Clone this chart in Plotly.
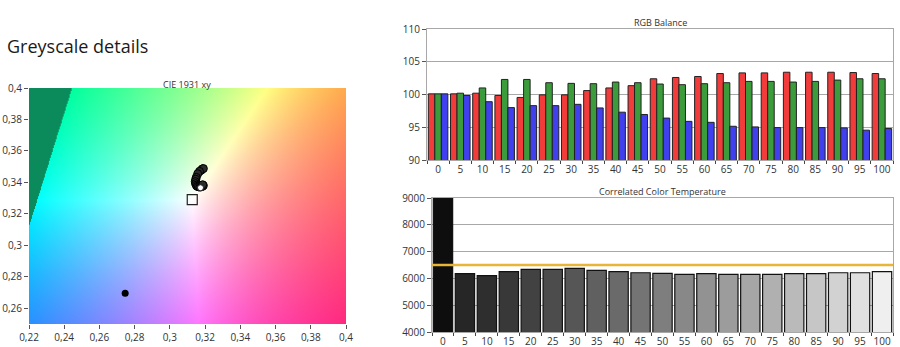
import base64, struct, zlib
import numpy as np
import plotly.graph_objects as go

# ---------------- data ----------------
levels = ["0", "5", "10", "15", "20", "25", "30", "35", "40", "45", "50",
          "55", "60", "65", "70", "75", "80", "85", "90", "95", "100"]

red_vals = [100.1, 100.1, 100.2, 99.85, 99.55, 99.95, 99.95, 100.6, 101.0, 101.35, 102.4,
            102.6, 102.75, 103.2, 103.3, 103.3, 103.4, 103.4, 103.4, 103.35, 103.2]
green_vals = [100.1, 100.2, 101.0, 102.3, 102.3, 101.8, 101.7, 101.65, 101.9, 101.8, 101.6,
              101.5, 101.65, 101.8, 102.0, 102.0, 101.9, 102.0, 102.2, 102.4, 102.4]
blue_vals = [100.1, 99.85, 98.9, 98.0, 98.3, 98.3, 98.5, 97.95, 97.3, 96.95, 96.4,
             95.9, 95.75, 95.15, 95.05, 94.95, 94.95, 94.95, 94.9, 94.55, 94.8]

cct_vals = [10500, 6175, 6100, 6250, 6340, 6340, 6375, 6300, 6250, 6210, 6190,
            6150, 6175, 6150, 6150, 6150, 6175, 6175, 6210, 6210, 6250]
cct_target = 6500

# CIE xy measured points (5% .. 95%), the 100% point, the 0% point and the D65 target
meas_x = [0.3155, 0.3160, 0.3178, 0.3185, 0.3190, 0.3168, 0.3158, 0.3150, 0.3147, 0.3144,
          0.3146, 0.3150, 0.3155, 0.3162, 0.3170, 0.3178, 0.3185, 0.3190, 0.3186]
meas_y = [0.3378, 0.3385, 0.3478, 0.3486, 0.3488, 0.3470, 0.3455, 0.3432, 0.3420, 0.3405,
          0.3392, 0.3382, 0.3375, 0.3372, 0.3370, 0.3372, 0.3375, 0.3380, 0.3385]
white_x, white_y = [0.3174], [0.3366]
black_x, black_y = [0.2746], [0.2695]
target_x, target_y = [0.3127], [0.3290]

cie_xticks = [0.22, 0.24, 0.26, 0.28, 0.30, 0.32, 0.34, 0.36, 0.38, 0.40]
cie_xlabels = ["0,22", "0,24", "0,26", "0,28", "0,3", "0,32", "0,34", "0,36", "0,38", "0,4"]
cie_yticks = [0.26, 0.28, 0.30, 0.32, 0.34, 0.36, 0.38, 0.40]
cie_ylabels = ["0,26", "0,28", "0,3", "0,32", "0,34", "0,36", "0,38", "0,4"]

grey_fill = ["#0e0e0e", "#262626", "#2e2e2e", "#383838", "#424242", "#4c4c4c", "#565656",
             "#606060", "#6a6a6a", "#747474", "#7e7e7e", "#888888", "#929292", "#9c9c9c",
             "#a6a6a6", "#b0b0b0", "#bababa", "#c6c6c6", "#d2d2d2", "#e0e0e0", "#efefef"]

# ---------------- CIE background image ----------------
X0, X1, Y0, Y1 = 0.22, 0.40, 0.25, 0.40
W, H = 320, 240
xs = X0 + (np.arange(W) + 0.5) / W * (X1 - X0)
ys = Y1 - (np.arange(H) + 0.5) / H * (Y1 - Y0)
gx, gy = np.meshgrid(xs, ys)
Xc = gx / gy
Yc = np.ones_like(gx)
Zc = (1 - gx - gy) / gy
M = np.array([[3.2406, -1.5372, -0.4986],
              [-0.9689, 1.8758, 0.0415],
              [0.0557, -0.2040, 1.0570]])
rgb = np.stack([M[i, 0] * Xc + M[i, 1] * Yc + M[i, 2] * Zc for i in range(3)], axis=-1)
outside = rgb.min(axis=-1) < 0
rgb = np.clip(rgb, 0, None)
rgb = rgb / rgb.max(axis=-1, keepdims=True)
rgb = rgb ** 0.9
img = (rgb * 255).round().astype(np.uint8)
img[outside] = np.array([11, 138, 92], dtype=np.uint8)


def png_uri(a):
    h, w, _ = a.shape
    raw = b"".join(b"\x00" + a[r].tobytes() for r in range(h))

    def chunk(t, d):
        c = struct.pack(">I", len(d)) + t + d
        return c + struct.pack(">I", zlib.crc32(t + d) & 0xffffffff)

    png = (b"\x89PNG\r\n\x1a\n" + chunk(b"IHDR", struct.pack(">IIBBBBB", w, h, 8, 2, 0, 0, 0))
           + chunk(b"IDAT", zlib.compress(raw, 9)) + chunk(b"IEND", b""))
    return "data:image/png;base64," + base64.b64encode(png).decode()


# ---------------- figure ----------------
FONT = "Open Sans"
TICKC = "#333333"
GRID = "#a8a8a8"
fig = go.Figure()

# CIE plot
fig.add_trace(go.Scatter(x=meas_x, y=meas_y, mode="markers", xaxis="x", yaxis="y",
                         marker=dict(size=8, color="#2b2b2b", line=dict(color="#000000", width=1)),
                         showlegend=False))
fig.add_trace(go.Scatter(x=white_x, y=white_y, mode="markers", xaxis="x", yaxis="y",
                         marker=dict(size=6, color="#ffffff", line=dict(color="#222222", width=1)),
                         showlegend=False))
fig.add_trace(go.Scatter(x=black_x, y=black_y, mode="markers", xaxis="x", yaxis="y",
                         marker=dict(size=7, color="#000000"), showlegend=False))
fig.add_trace(go.Scatter(x=target_x, y=target_y, mode="markers", xaxis="x", yaxis="y",
                         marker=dict(size=10, symbol="square-open", color="#222222",
                                     line=dict(width=1.2)), showlegend=False))

# RGB balance
for vals, col in ((red_vals, "#f23c3c"), (green_vals, "#3c9c3c"), (blue_vals, "#4040ee")):
    fig.add_trace(go.Bar(x=levels, y=vals, xaxis="x2", yaxis="y2", marker_color=col,
                         marker_line=dict(color="#222222", width=1), showlegend=False))

# CCT
fig.add_trace(go.Bar(x=levels, y=cct_vals, xaxis="x3", yaxis="y3", marker_color=grey_fill,
                     marker_line=dict(color="#111111", width=1.2), showlegend=False))

fig.add_shape(type="line", xref="x3 domain", yref="y3", x0=0, x1=1, y0=cct_target, y1=cct_target,
              line=dict(color="#e8b43a", width=2.5))

fig.add_layout_image(dict(source=png_uri(img), xref="x", yref="y", x=X0, y=Y1,
                          sizex=X1 - X0, sizey=Y1 - Y0, sizing="stretch", layer="below"))

tickfont = dict(family=FONT, size=10, color=TICKC)
cat_font = dict(family=FONT, size=10, color=TICKC)
fig.update_layout(
    width=900, height=347, margin=dict(l=0, r=0, t=0, b=0, autoexpand=False),
    paper_bgcolor="white", plot_bgcolor="rgba(0,0,0,0)",
    font=dict(family=FONT, color=TICKC),
    barmode="group", bargap=0.12, bargroupgap=0,
    xaxis=dict(domain=[29 / 900, 346 / 900], range=[X0, X1], tickvals=cie_xticks,
               ticktext=cie_xlabels, ticks="outside", ticklen=4, tickcolor="#555",
               showgrid=False, zeroline=False, showline=False, tickfont=tickfont, anchor="y",
               automargin=False),
    yaxis=dict(domain=[1 - 324 / 347, 1 - 88 / 347], range=[Y0, Y1], tickvals=cie_yticks,
               ticktext=cie_ylabels, ticks="outside", ticklen=4, tickcolor="#555",
               showgrid=False, zeroline=False, showline=False, tickfont=tickfont, anchor="x",
               automargin=False),
    xaxis2=dict(domain=[427 / 900, 893 / 900], type="category", anchor="y2",
                ticks="outside", tickson="boundaries", ticklen=3, tickcolor="#444",
                showgrid=False, showline=True, mirror=True, linecolor=GRID, tickfont=cat_font,
                tickangle=0, automargin=False),
    yaxis2=dict(domain=[1 - 160 / 347, 1 - 29 / 347], range=[90, 110], dtick=5,
                ticks="outside", ticklen=4, tickcolor="#555", gridcolor=GRID,
                showline=True, mirror=True, linecolor=GRID, zeroline=False,
                tickfont=tickfont, anchor="x2", automargin=False),
    xaxis3=dict(domain=[432 / 900, 893 / 900], type="category", anchor="y3",
                ticks="outside", tickson="boundaries", ticklen=3, tickcolor="#444",
                showgrid=False, showline=True, mirror=True, linecolor=GRID, tickfont=cat_font,
                tickangle=0, automargin=False),
    yaxis3=dict(domain=[1 - 332 / 347, 1 - 198 / 347], range=[4000, 9000], dtick=1000,
                ticks="outside", ticklen=4, tickcolor="#555", gridcolor=GRID,
                showline=True, mirror=True, linecolor=GRID, zeroline=False,
                tickfont=tickfont, anchor="x3", automargin=False),
)

annots = [
    dict(text="Greyscale details", x=5 / 900, y=1 - 46 / 347, xanchor="left", yanchor="middle",
         font=dict(family=FONT, size=18, color="#1a1a1a")),
    dict(text="CIE 1931 xy", x=187 / 900, y=1 - 84 / 347, xanchor="center", yanchor="middle",
         font=dict(family=FONT, size=9, color=TICKC)),
    dict(text="RGB Balance", x=660 / 900, y=1 - 22 / 347, xanchor="center", yanchor="middle",
         font=dict(family=FONT, size=9, color=TICKC)),
    dict(text="Correlated Color Temperature", x=662 / 900, y=1 - 191 / 347, xanchor="center",
         yanchor="middle", font=dict(family=FONT, size=9, color=TICKC)),
]
for a in annots:
    fig.add_annotation(xref="paper", yref="paper", showarrow=False, **a)

fig.write_html("out.html")
